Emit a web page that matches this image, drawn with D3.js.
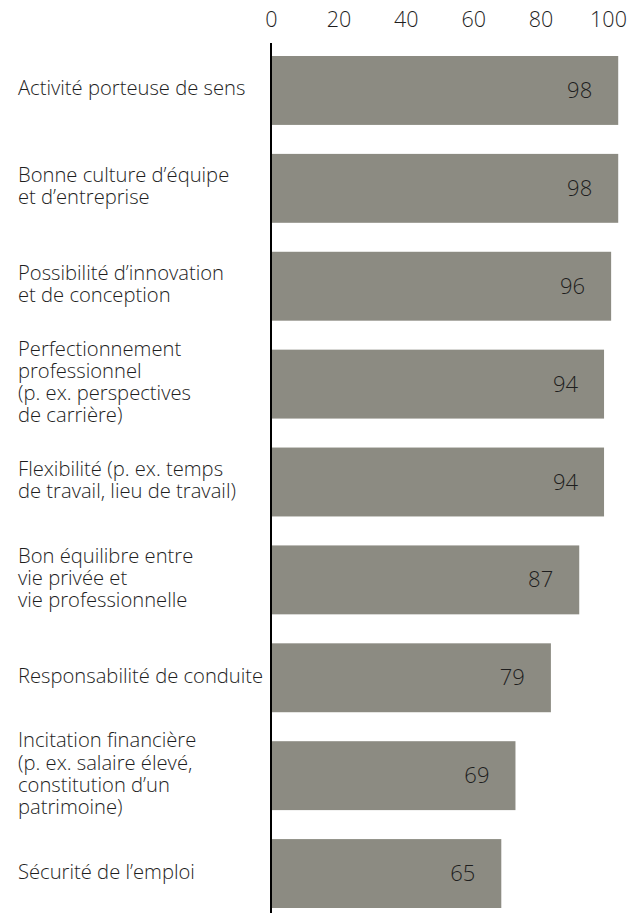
<!DOCTYPE html>
<html>
<head>
<meta charset="utf-8">
<script src="https://cdn.jsdelivr.net/npm/d3@7"></script>
<style>
  html, body { margin: 0; padding: 0; background: #fff; }
  svg { display: block; }
  text { font-family: "Open Sans", "Noto Sans", sans-serif; font-weight: 300; }
</style>
</head>
<body>
<div id="chart"></div>
<script>
// Categories (line breaks marked with \n), values and axis ticks
const categories = [
  "Activité porteuse de sens",
  "Bonne culture d’équipe\net d’entreprise",
  "Possibilité d’innovation\net de conception",
  "Perfectionnement\nprofessionnel\n(p. ex. perspectives\nde carrière)",
  "Flexibilité (p. ex. temps\nde travail, lieu de travail)",
  "Bon équilibre entre\nvie privée et\nvie professionnelle",
  "Responsabilité de conduite",
  "Incitation financière\n(p. ex. salaire élevé,\nconstitution d’un\npatrimoine)",
  "Sécurité de l’emploi"
];
const values = [98, 98, 96, 94, 94, 87, 79, 69, 65];
const tickValues = [0, 20, 40, 60, 80, 100];

const width = 636, height = 913;
const barColor = "#8c8b82";
const textColor = "#1e1e1e";

const svg = d3.select("#chart").append("svg")
  .attr("width", width)
  .attr("height", height);

// Bar length scale and the (slightly tighter) scale used for the tick labels
const x = d3.scaleLinear().domain([0, 100]).range([271, 625.3]);
const xTicks = d3.scaleLinear().domain([0, 100]).range([271, 608]);

const y = d3.scaleBand()
  .domain(categories)
  .range([56, 908])
  .paddingInner(0.296)
  .paddingOuter(0);

// Bars
svg.append("g").selectAll("rect")
  .data(categories)
  .join("rect")
  .attr("x", x(0))
  .attr("y", d => y(d))
  .attr("width", (d, i) => x(values[i]) - x(0))
  .attr("height", y.bandwidth())
  .attr("fill", barColor);

// Value labels inside the bar ends
svg.append("g").selectAll("text")
  .data(categories)
  .join("text")
  .attr("x", (d, i) => x(values[i]) - 26)
  .attr("y", d => y(d) + y.bandwidth() / 2 + 7.5)
  .attr("text-anchor", "end")
  .attr("font-size", 22)
  .attr("fill", textColor)
  .text((d, i) => values[i]);

// Top axis: labels only
const axis = svg.append("g")
  .attr("transform", "translate(0,27)")
  .call(d3.axisTop(xTicks).tickValues(tickValues).tickSize(0).tickPadding(0));
axis.select(".domain").remove();
axis.selectAll("text")
  .attr("font-size", 21.5)
  .attr("font-family", "\"Open Sans\", \"Noto Sans\", sans-serif")
  .attr("font-weight", 300)
  .attr("fill", textColor);

// Vertical baseline at zero
svg.append("line")
  .attr("x1", x(0)).attr("x2", x(0))
  .attr("y1", 43).attr("y2", height)
  .attr("stroke", "#000")
  .attr("stroke-width", 2);

// Category labels, multi-line, centred on each bar
const lineHeight = 22.2;
const labels = svg.append("g").selectAll("text")
  .data(categories)
  .join("text")
  .attr("x", 18)
  .attr("font-size", 20.2)
  .attr("fill", textColor)
  .attr("y", d => {
    const n = d.split("\n").length;
    return y(d) + y.bandwidth() / 2 - (n - 1) / 2 * lineHeight + 5;
  });
labels.selectAll("tspan")
  .data(d => d.split("\n"))
  .join("tspan")
  .attr("x", 18)
  .attr("dy", (d, i) => i === 0 ? 0 : lineHeight)
  .text(d => d);
</script>
</body>
</html>
